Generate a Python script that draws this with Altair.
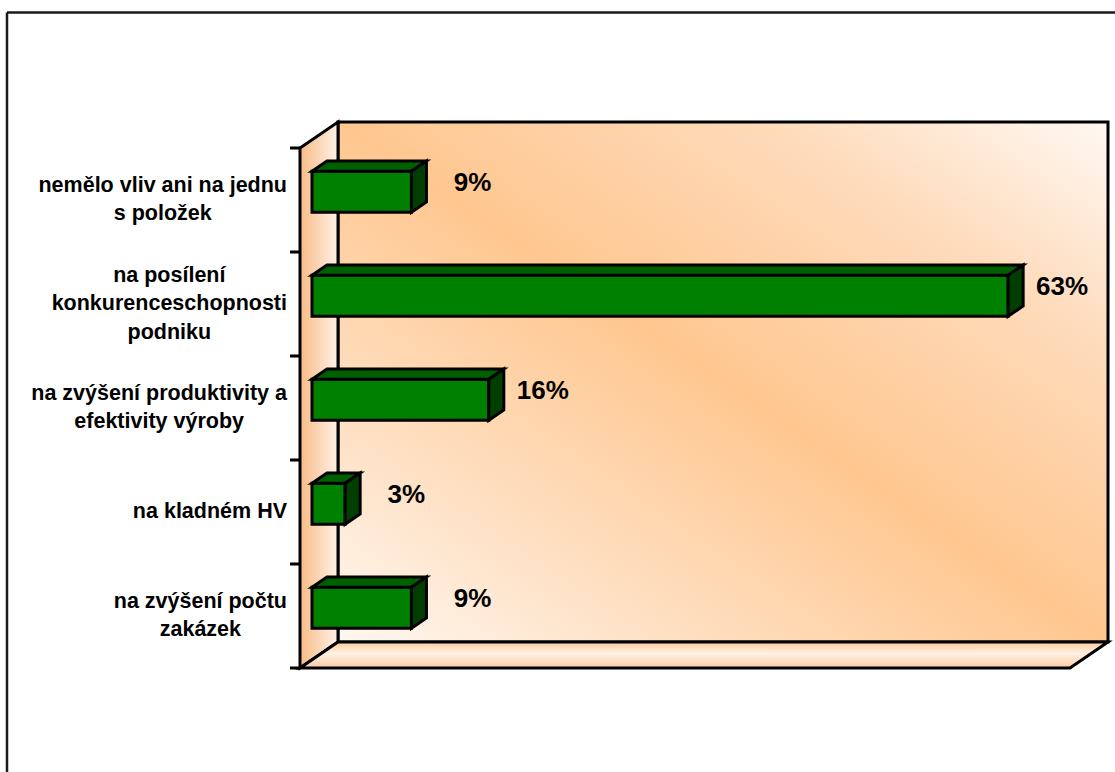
import altair as alt
import pandas as pd

# ---- data ----
categories = [
    "nemělo vliv ani na jednu\ns položek",
    "na posílení\nkonkurenceschopnosti\npodniku",
    "na zvýšení produktivity a\nefektivity výroby",
    "na kladném HV",
    "na zvýšení počtu\nzakázek",
]
values = [9, 63, 16, 3, 9]

# ---- layout constants (pixels) ----
W, H = 808, 546            # plot area (front axis -> back wall right, back top -> front floor)
PX_X = 11.05               # px per percentage point
PX_Y = 104.0               # px per category band
XMAX = W / PX_X
YMAX = H / PX_Y
N = len(categories)
DX = 38 / PX_X             # depth offset of the 3D walls
DY = 26 / PX_Y
D1, D2 = 12 / 38, 27 / 38  # bar depth range
BAR_H = 41 / PX_Y
LABEL_RIGHT_PX = -13       # right edge of category label blocks relative to axis
LINE_H = 28.5

# Arial/Liberation Sans Bold advance widths (per 1000 em)
AW = {" ": 278, "a": 556, "b": 611, "c": 556, "d": 611, "e": 556, "f": 333, "h": 611,
      "i": 278, "j": 278, "k": 556, "l": 278, "m": 889, "n": 611, "o": 611, "p": 611,
      "r": 389, "s": 556, "t": 333, "u": 611, "v": 556, "y": 556, "z": 500, "H": 722,
      "V": 667, "ě": 556, "ž": 500, "í": 278, "ý": 556, "š": 556, "é": 556, "č": 556,
      "á": 556}
CAT_FS = 21.5


def text_w(s, fs):
    return sum(AW.get(ch, 556) for ch in s) / 1000 * fs


xs = alt.Scale(domain=[0, XMAX], nice=False, zero=False)
ys = alt.Scale(domain=[0, YMAX], nice=False, zero=False)

# ---- build tables ----
front, top, side, pct, cat = [], [], [], [], []
ddx, ddy = (D2 - D1) * DX, (D2 - D1) * DY
for i, (c, v) in enumerate(zip(categories, values)):
    cy = N - i - 0.5
    x0 = D1 * DX
    x1 = x0 + v
    yb = cy - BAR_H / 2 + D1 * DY
    yt = yb + BAR_H
    front.append({"id": i, "x": x0, "x2": x1, "y": yb, "y2": yt})
    top += [
        {"id": i, "x": x0, "y": yt, "y2": yt},
        {"id": i, "x": x0 + ddx, "y": yt, "y2": yt + ddy},
        {"id": i, "x": x1, "y": yt, "y2": yt + ddy},
        {"id": i, "x": x1 + ddx, "y": yt + ddy, "y2": yt + ddy},
    ]
    side += [
        {"id": i, "x": x1, "y": yb, "y2": yt},
        {"id": i, "x": x1 + ddx, "y": yb + ddy, "y2": yt + ddy},
    ]
    pct.append({"x": x1 + 80 / PX_X - x0 + x0, "y": cy + 17.5 / PX_Y, "t": f"{v}%"})
    lines = c.split("\n")
    maxw = max(text_w(line, CAT_FS) for line in lines)
    cat.append({"x": (LABEL_RIGHT_PX - maxw / 2) / PX_X,
                "y": cy + (len(lines) - 1) / 2 * LINE_H / PX_Y, "t": c})

df_front = pd.DataFrame(front)
df_top = pd.DataFrame(top)
df_side = pd.DataFrame(side)
df_pct = pd.DataFrame(pct)
df_cat = pd.DataFrame(cat)

df_back = pd.DataFrame([{"x": DX, "x2": XMAX, "y": DY, "y2": N + DY}])
df_left = pd.DataFrame([{"x": 0, "y": 0, "y2": N}, {"x": DX, "y": DY, "y2": N + DY}])
df_floor = pd.DataFrame([{"y": 0, "x": 0, "x2": XMAX - DX}, {"y": DY, "x": DX, "x2": XMAX}])
df_ticks = pd.DataFrame([{"y": k, "x": -10 / PX_X, "x2": 0} for k in range(N + 1)])

STROKE = dict(stroke="black", strokeWidth=3, strokeJoin="miter")

back = alt.Chart(df_back).mark_rect(
    fill={"gradient": "linear", "x1": 0, "y1": 1, "x2": 1, "y2": 0,
          "stops": [{"offset": 0, "color": "#FFF7F0"},
                    {"offset": 0.22, "color": "#FEE0C3"},
                    {"offset": 0.5, "color": "#FFC790"},
                    {"offset": 0.78, "color": "#FEDBBB"},
                    {"offset": 1, "color": "#FFF8F2"}]},
    **STROKE,
).encode(x=alt.X("x:Q", scale=xs, axis=None), x2="x2:Q",
         y=alt.Y("y:Q", scale=ys, axis=None), y2="y2:Q")

left = alt.Chart(df_left).mark_area(
    orient="vertical",
    fill={"gradient": "linear", "x1": 0, "y1": 0, "x2": 1, "y2": 0,
          "stops": [{"offset": 0, "color": "#F8BB86"},
                    {"offset": 1, "color": "#FFF2E6"}]},
    **STROKE,
).encode(x=alt.X("x:Q", scale=xs, axis=None), y=alt.Y("y:Q", scale=ys, axis=None), y2="y2:Q")

floor = alt.Chart(df_floor).mark_area(
    orient="horizontal",
    fill={"gradient": "linear", "x1": 0, "y1": 0, "x2": 0, "y2": 1,
          "stops": [{"offset": 0, "color": "#FCCB9B"},
                    {"offset": 0.45, "color": "#FFF1E4"},
                    {"offset": 1, "color": "#FBCDA0"}]},
    **STROKE,
).encode(y=alt.Y("y:Q", scale=ys, axis=None), x=alt.X("x:Q", scale=xs, axis=None), x2="x2:Q")

ticks = alt.Chart(df_ticks).mark_rule(color="black", strokeWidth=3).encode(
    x=alt.X("x:Q", scale=xs, axis=None), x2="x2:Q", y=alt.Y("y:Q", scale=ys, axis=None))

bar_front = alt.Chart(df_front).mark_rect(fill="#008000", **STROKE).encode(
    x=alt.X("x:Q", scale=xs, axis=None), x2="x2:Q",
    y=alt.Y("y:Q", scale=ys, axis=None), y2="y2:Q")

bar_top = alt.Chart(df_top).mark_area(orient="vertical", fill="#006000", **STROKE).encode(
    x=alt.X("x:Q", scale=xs, axis=None), y=alt.Y("y:Q", scale=ys, axis=None), y2="y2:Q",
    detail="id:N")

bar_side = alt.Chart(df_side).mark_area(orient="vertical", fill="#003F00", **STROKE).encode(
    x=alt.X("x:Q", scale=xs, axis=None), y=alt.Y("y:Q", scale=ys, axis=None), y2="y2:Q",
    detail="id:N")

pct_text = alt.Chart(df_pct).mark_text(
    align="right", baseline="middle", font="Liberation Sans", fontSize=26,
    fontWeight="bold", color="black",
).encode(x=alt.X("x:Q", scale=xs, axis=None), y=alt.Y("y:Q", scale=ys, axis=None), text="t:N")

cat_text = alt.Chart(df_cat).mark_text(
    align="center", baseline="middle", font="Liberation Sans", fontSize=CAT_FS,
    fontWeight="bold", color="black", lineBreak="\n", lineHeight=LINE_H,
).encode(x=alt.X("x:Q", scale=xs, axis=None), y=alt.Y("y:Q", scale=ys, axis=None), text="t:N")

one = pd.DataFrame({"a": [0]})
frame_top = alt.Chart(one).mark_rule(color="#1a1a1a", strokeWidth=2.5).encode(
    x=alt.value(-293), x2=alt.value(840), y=alt.value(-109.5))
frame_left = alt.Chart(one).mark_rule(color="#1a1a1a", strokeWidth=2.5).encode(
    x=alt.value(-293), y=alt.value(-109.5), y2=alt.value(700))

chart = alt.layer(
    back, left, floor, ticks, bar_front, bar_top, bar_side, pct_text, cat_text,
    frame_top, frame_left,
).properties(
    width=W, height=H,
    autosize=alt.AutoSizeParams(type="none"),
    padding={"left": 300, "top": 122, "right": 7, "bottom": 104},
    background="white",
).configure_view(strokeWidth=0)

chart.save("out.html", embed_options={"renderer": "svg", "actions": False})
